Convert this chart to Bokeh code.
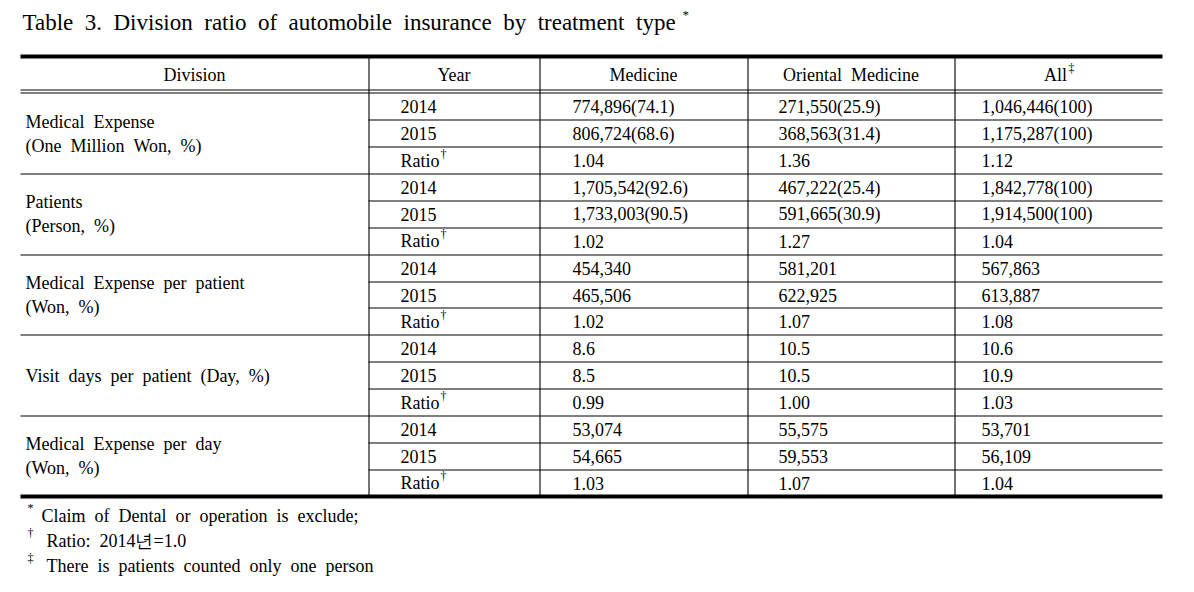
from bokeh.plotting import figure
from bokeh.models import Range1d, ColumnDataSource
from bokeh.core.properties import value
from bokeh.embed import file_html
from bokeh.resources import INLINE

NB = "\u00a0"

title = "Table 3. Division ratio of automobile insurance by treatment type"
headers = ["Division", "Year", "Medicine", "Oriental Medicine", "All"]
divisions = [
    ["Medical Expense", "(One Million Won, %)"],
    ["Patients", "(Person, %)"],
    ["Medical Expense per patient", "(Won, %)"],
    ["Visit days per patient (Day, %)"],
    ["Medical Expense per day", "(Won, %)"],
]
years = ["2014", "2015", "Ratio"]
medicine = ["774,896(74.1)", "806,724(68.6)", "1.04",
            "1,705,542(92.6)", "1,733,003(90.5)", "1.02",
            "454,340", "465,506", "1.02",
            "8.6", "8.5", "0.99",
            "53,074", "54,665", "1.03"]
oriental = ["271,550(25.9)", "368,563(31.4)", "1.36",
            "467,222(25.4)", "591,665(30.9)", "1.27",
            "581,201", "622,925", "1.07",
            "10.5", "10.5", "1.00",
            "55,575", "59,553", "1.07"]
all_col = ["1,046,446(100)", "1,175,287(100)", "1.12",
           "1,842,778(100)", "1,914,500(100)", "1.04",
           "567,863", "613,887", "1.08",
           "10.6", "10.9", "1.03",
           "53,701", "56,109", "1.04"]
footnotes = [("*", "Claim of Dental or operation is exclude;"),
             ("\u2020", "Ratio: 2014\ub144=1.0"),
             ("\u2021", "There is patients counted only one person")]

def wide(s):
    return s.replace(" ", " " + NB)

# layout (page pixel coordinates)
col_edges = [20, 368, 539, 747, 954, 1162]
top_y = 56
head_y1, head_y2 = 89.5, 92.5
row_top = 93
row_h = 26.87
n_rows = len(medicine)
bottom_y = 496

FONT = value("Liberation Serif")
BODY = "18px"

p = figure(width=1178, height=576, output_backend="svg", toolbar_location=None,
           x_range=Range1d(0, 1178), y_range=Range1d(576, 0),
           x_axis_location=None, y_axis_location=None, min_border=0)
p.grid.visible = False
p.outline_line_color = None
p.background_fill_color = "white"
p.border_fill_color = "white"

def crisp(y):
    return int(y) + 0.5

# thick rules
p.segment(x0=[col_edges[0]] * 2, y0=[top_y, bottom_y], x1=[col_edges[-1]] * 2,
          y1=[top_y, bottom_y], line_width=4, line_color="black")
# header double rule
p.segment(x0=[col_edges[0]] * 2, y0=[head_y1, head_y2], x1=[col_edges[-1]] * 2,
          y1=[head_y1, head_y2], line_width=1.2, line_color="black")
# row rules
x0s, x1s, ys = [], [], []
for k in range(1, n_rows):
    y = crisp(row_top + row_h * k)
    x0s.append(col_edges[0] if k % 3 == 0 else col_edges[1])
    x1s.append(col_edges[-1])
    ys.append(y)
p.segment(x0=x0s, y0=ys, x1=x1s, y1=ys, line_width=1.1, line_color="black")
# vertical rules
vx = [c + 0.5 for c in col_edges[1:-1]]
p.segment(x0=vx, y0=[top_y] * len(vx), x1=vx, y1=[bottom_y] * len(vx),
          line_width=1.1, line_color="black")

def put(xs, ys, texts, align="left", size=BODY, color="black"):
    src = ColumnDataSource(dict(x=xs, y=ys, t=texts))
    p.text(x="x", y="y", text="t", source=src, text_align=align,
           text_baseline="middle", text_font=FONT, text_font_size=size,
           text_color=color)

# title
put([22], [22], [wide(title)], size="23px")
put([682], [14], ["*"], size="13px")

# headers
centers = [(col_edges[i] + col_edges[i + 1]) / 2 for i in range(5)]
hy = 74.5
put(centers[:4], [hy] * 4, [wide(h) for h in headers[:4]], align="center")
put([centers[4] - 3], [hy], [headers[4]], align="center")
put([centers[4] + 10], [hy - 7], ["\u2021"], size="12px")

# rows
row_c = [row_top + row_h * (i + 0.5) for i in range(n_rows)]
yr = [years[i % 3] for i in range(n_rows)]
put([400] * n_rows, row_c, yr)
ratio_y = [row_c[i] - 7 for i in range(n_rows) if i % 3 == 2]
put([440] * len(ratio_y), ratio_y, ["\u2020"] * len(ratio_y), size="12px")
put([572] * n_rows, row_c, medicine)
put([778] * n_rows, row_c, oriental)
put([981] * n_rows, row_c, all_col)

# division labels
dx, dy, dt = [], [], []
for g, lines in enumerate(divisions):
    gc = row_top + row_h * (3 * g + 1.5)
    if len(lines) == 1:
        offs = [0]
    else:
        offs = [-12, 12]
    for o, t in zip(offs, lines):
        dx.append(25)
        dy.append(gc + o)
        dt.append(wide(t))
put(dx, dy, dt)

# footnotes
fy = [515, 540, 565]
fx = [41, 46, 46]
put([27] * 3, [f - 8 for f in fy], [s for s, _ in footnotes], size="12px")
put(fx, fy, [wide(t) for _, t in footnotes])

open("out.html", "w").write(file_html(p, INLINE))
